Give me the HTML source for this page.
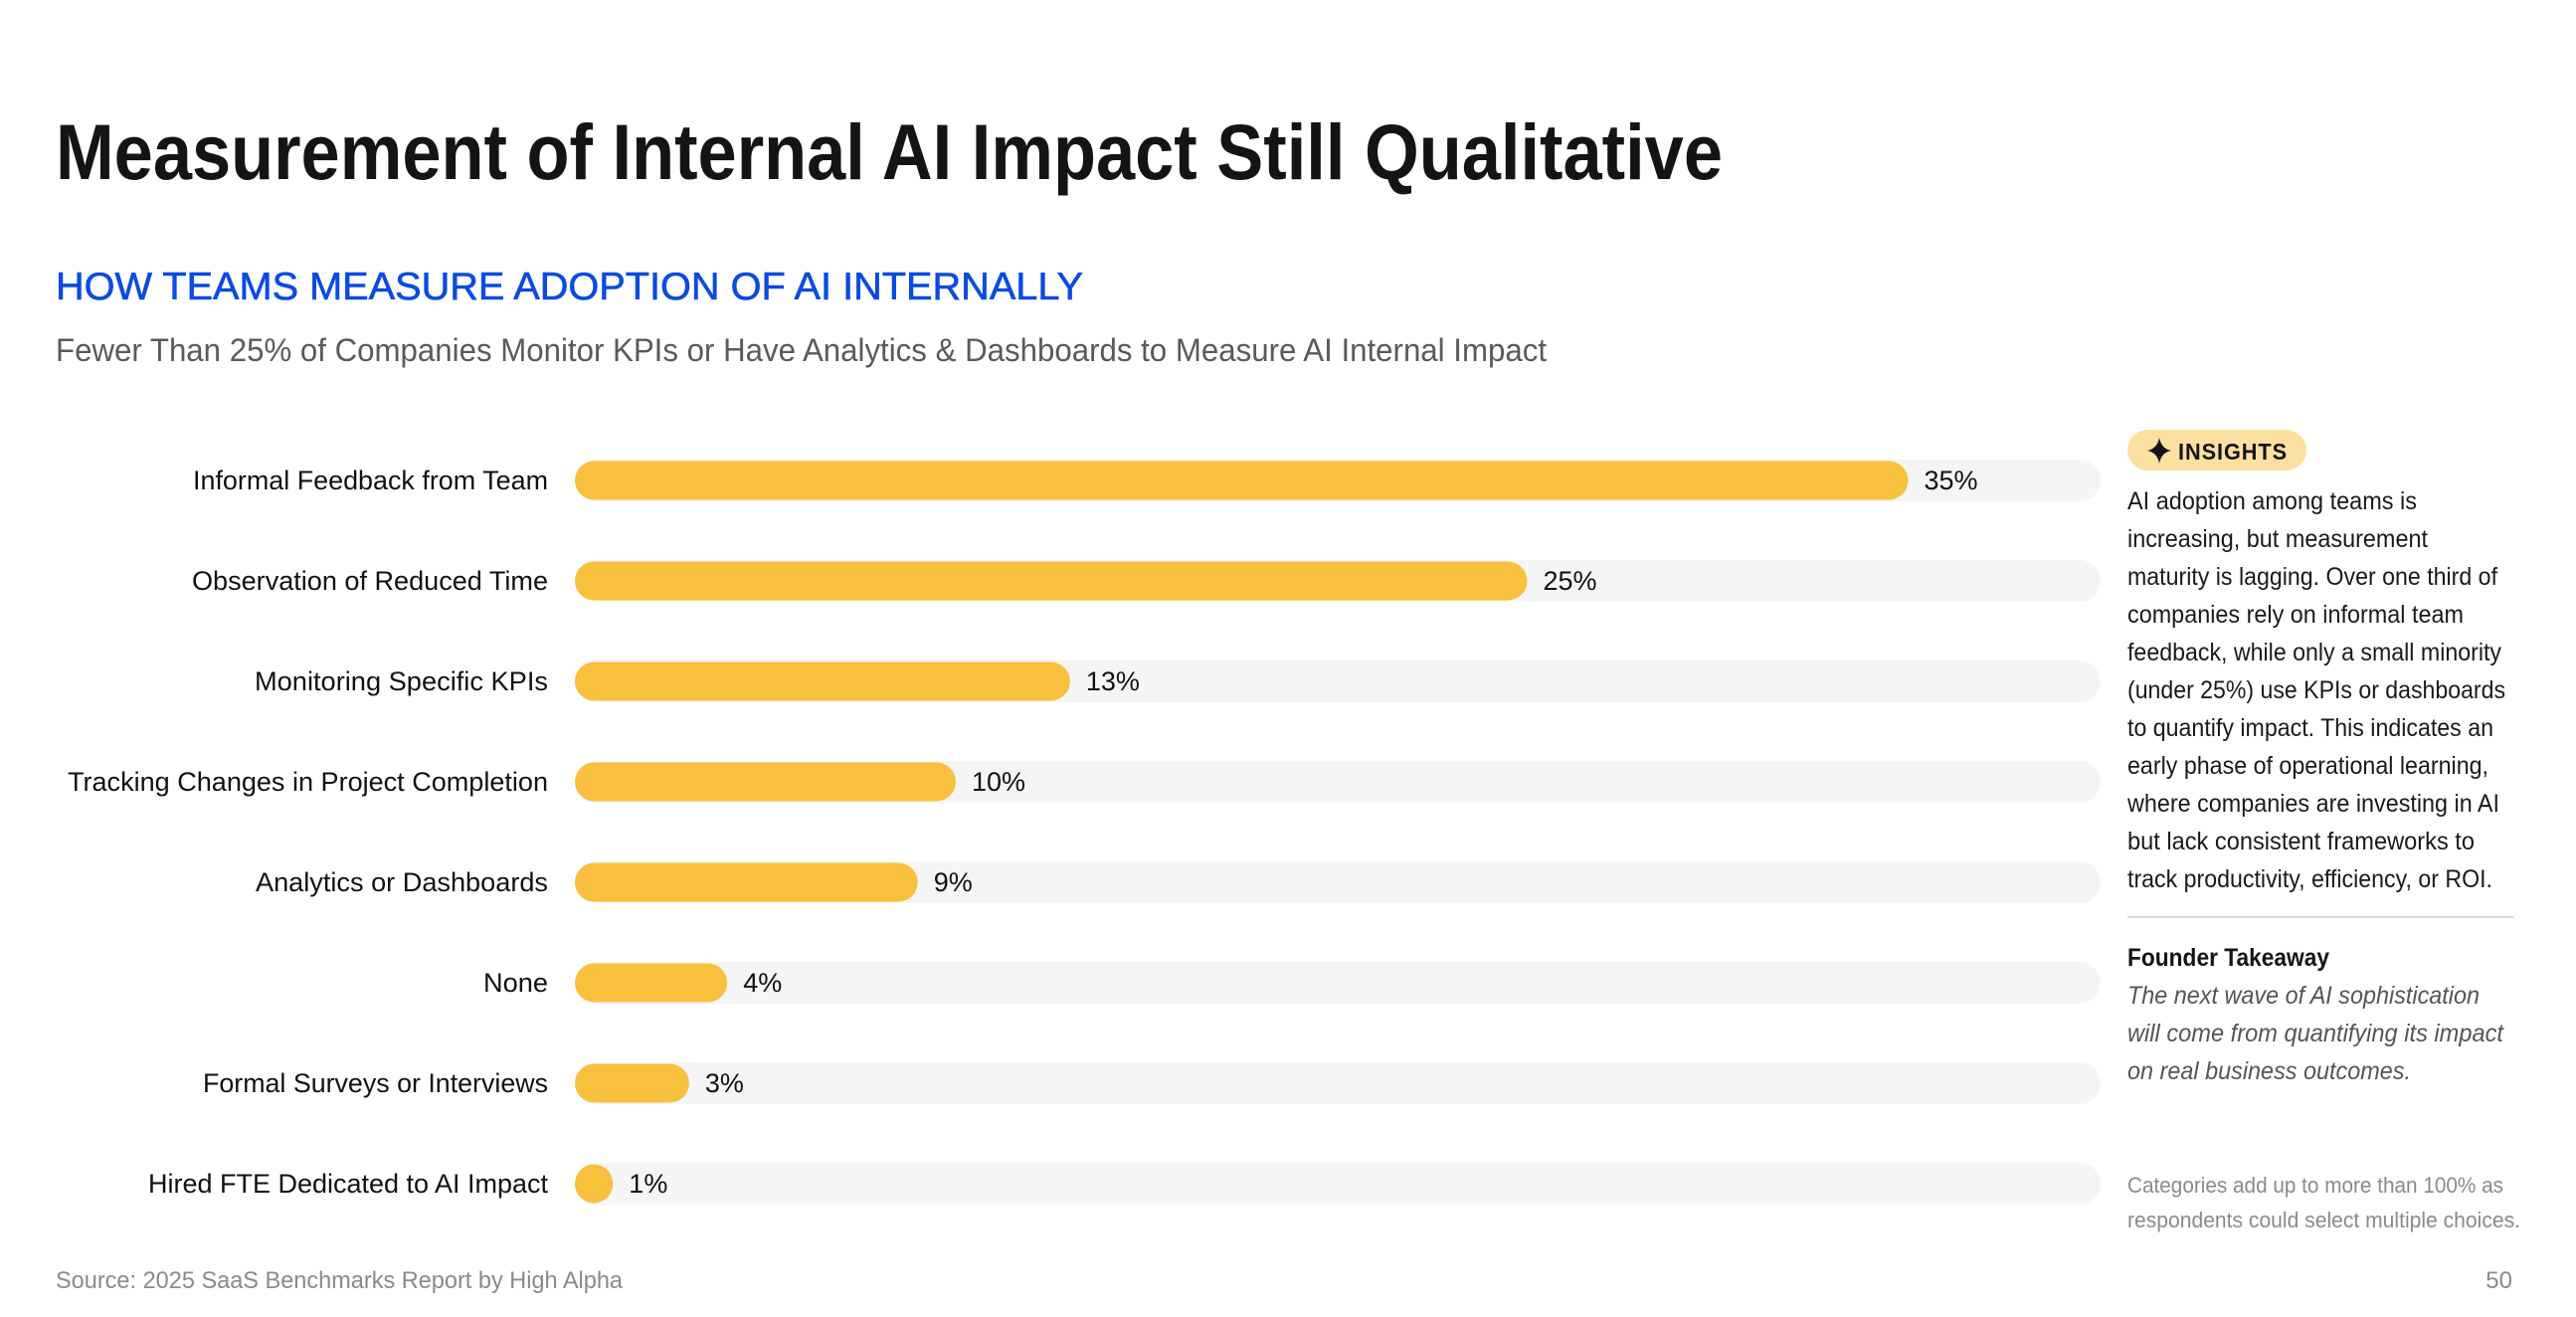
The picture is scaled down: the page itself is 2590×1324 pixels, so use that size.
<!DOCTYPE html>
<html><head><meta charset="utf-8">
<style>
html,body{margin:0;padding:0;background:#fff;}
svg{display:block;font-family:"Liberation Sans",sans-serif;}
</style></head>
<body>
<svg id="chart" width="2590" height="1324" viewBox="0 0 2590 1324" xmlns="http://www.w3.org/2000/svg">
<text x="56" y="180" font-size="79" font-weight="bold" fill="#141414" textLength="1676" lengthAdjust="spacingAndGlyphs">Measurement of Internal AI Impact Still Qualitative</text>
<text x="56" y="301" font-size="39" fill="#0A4BE0" stroke="#0A4BE0" stroke-width="0.6" textLength="1033" lengthAdjust="spacingAndGlyphs">HOW TEAMS MEASURE ADOPTION OF AI INTERNALLY</text>
<text x="56" y="363" font-size="32" fill="#5a5a5a" textLength="1499" lengthAdjust="spacingAndGlyphs">Fewer Than 25% of Companies Monitor KPIs or Have Analytics &amp; Dashboards to Measure AI Internal Impact</text>
<g id="bars"></g>
<g>
<rect x="2139" y="432" width="180" height="41" rx="20.5" fill="#FCE0A2"/>
<path d="M2171 440 Q2173 451 2183 453 Q2173 455 2171 466 Q2169 455 2159 453 Q2169 451 2171 440Z" fill="#141414"/>
<text x="2190" y="462" font-size="23" font-weight="bold" fill="#141414" textLength="110" lengthAdjust="spacingAndGlyphs" letter-spacing="1">INSIGHTS</text>
<g font-size="25" fill="#1a1a1a">
<text x="2139" y="512" textLength="291" lengthAdjust="spacingAndGlyphs">AI adoption among teams is</text>
<text x="2139" y="550" textLength="302" lengthAdjust="spacingAndGlyphs">increasing, but measurement</text>
<text x="2139" y="588" textLength="372" lengthAdjust="spacingAndGlyphs">maturity is lagging. Over one third of</text>
<text x="2139" y="626" textLength="338" lengthAdjust="spacingAndGlyphs">companies rely on informal team</text>
<text x="2139" y="664" textLength="376" lengthAdjust="spacingAndGlyphs">feedback, while only a small minority</text>
<text x="2139" y="702" textLength="380" lengthAdjust="spacingAndGlyphs">(under 25%) use KPIs or dashboards</text>
<text x="2139" y="740" textLength="368" lengthAdjust="spacingAndGlyphs">to quantify impact. This indicates an</text>
<text x="2139" y="778" textLength="363" lengthAdjust="spacingAndGlyphs">early phase of operational learning,</text>
<text x="2139" y="816" textLength="374" lengthAdjust="spacingAndGlyphs">where companies are investing in AI</text>
<text x="2139" y="854" textLength="349" lengthAdjust="spacingAndGlyphs">but lack consistent frameworks to</text>
<text x="2139" y="892" textLength="367" lengthAdjust="spacingAndGlyphs">track productivity, efficiency, or ROI.</text>
</g>
<rect x="2139" y="921" width="389" height="2" fill="#dcdcdc"/>
<text x="2139" y="971" font-size="25" font-weight="bold" fill="#141414" textLength="203" lengthAdjust="spacingAndGlyphs">Founder Takeaway</text>
<g font-size="25" font-style="italic" fill="#555">
<text x="2139" y="1009" textLength="354" lengthAdjust="spacingAndGlyphs">The next wave of AI sophistication</text>
<text x="2139" y="1047" textLength="378" lengthAdjust="spacingAndGlyphs">will come from quantifying its impact</text>
<text x="2139" y="1085" textLength="285" lengthAdjust="spacingAndGlyphs">on real business outcomes.</text>
</g>
<g font-size="22" fill="#8a8a8a">
<text x="2139" y="1199" textLength="378" lengthAdjust="spacingAndGlyphs">Categories add up to more than 100% as</text>
<text x="2139" y="1234" textLength="395" lengthAdjust="spacingAndGlyphs">respondents could select multiple choices.</text>
</g>
</g>
<text x="56" y="1295" font-size="24" fill="#8a8a8a" textLength="570" lengthAdjust="spacingAndGlyphs">Source: 2025 SaaS Benchmarks Report by High Alpha</text>
<text x="2526" y="1295" font-size="24" fill="#8a8a8a" text-anchor="end">50</text>
</svg>
<script>
const categories = ["Informal Feedback from Team","Observation of Reduced Time","Monitoring Specific KPIs","Tracking Changes in Project Completion","Analytics or Dashboards","None","Formal Surveys or Interviews","Hired FTE Dedicated to AI Impact"];
const values = [35,25,13,10,9,4,3,1];
const valueLabels = ["35%","25%","13%","10%","9%","4%","3%","1%"];
const labelWidths = [357,358,295,483,294,65,347,402];

const NS = "http://www.w3.org/2000/svg";
const g = document.getElementById("bars");
const x0 = 578, pxPer = 38.3, trackEnd = 2112;
function xScale(v){ return x0 + v * pxPer; }
function yCenter(i){ return 483 + i * 101; }
categories.forEach((c, i) => {
  const cy = yCenter(i);
  const track = document.createElementNS(NS, "rect");
  track.setAttribute("x", x0); track.setAttribute("y", cy - 21);
  track.setAttribute("width", trackEnd - x0); track.setAttribute("height", 42);
  track.setAttribute("rx", 21); track.setAttribute("fill", "#F5F5F5");
  
  
  g.appendChild(track);
  const bar = document.createElementNS(NS, "rect");
  const w = Math.max(xScale(values[i]) - x0, 38);
  bar.setAttribute("x", x0); bar.setAttribute("y", cy - 19.5);
  bar.setAttribute("width", w); bar.setAttribute("height", 39);
  bar.setAttribute("rx", 19.5); bar.setAttribute("fill", "#F8C03C");
  
  
  g.appendChild(bar);
  const lab = document.createElementNS(NS, "text");
  lab.setAttribute("x", 551); lab.setAttribute("y", cy + 9);
  lab.setAttribute("text-anchor", "end"); lab.setAttribute("font-size", "27");
  lab.setAttribute("fill", "#111");
  lab.setAttribute("textLength", labelWidths[i]);
  lab.setAttribute("lengthAdjust", "spacingAndGlyphs");
  lab.textContent = c;
  
  
  g.appendChild(lab);
  const val = document.createElementNS(NS, "text");
  val.setAttribute("x", x0 + w + 16); val.setAttribute("y", cy + 9);
  val.setAttribute("font-size", "27"); val.setAttribute("fill", "#111");
  val.textContent = valueLabels[i];
  
  
  g.appendChild(val);
});
</script>
</body></html>
